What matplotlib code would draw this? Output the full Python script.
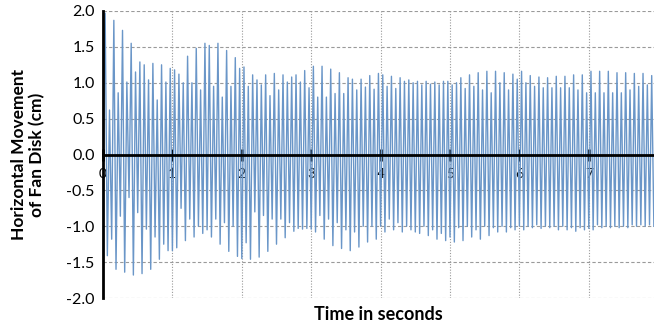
import numpy as np
import matplotlib.pyplot as plt

plt.rcParams['font.family'] = ['Lato', 'DejaVu Sans']

# positive peaks, one per cycle (about 16 cycles per second)
peaks = [
    1.97, 0.62, 1.87, 0.86, 1.73, 1.01, 1.55, 1.15,
    1.29, 1.25, 1.04, 1.27, 0.76, 1.25, 1.01, 1.20,
    1.18, 1.12, 1.00, 1.37, 1.00, 1.48, 0.90, 1.55,
    1.52, 0.95, 1.55, 0.80, 1.45, 0.95, 1.35, 1.20,
    1.22, 0.95, 1.11, 1.04, 0.97, 1.11, 0.82, 1.13,
    0.90, 1.11, 1.01, 1.08, 1.11, 1.01, 1.17, 0.93,
    1.23, 0.80, 1.23, 0.80, 1.19, 0.85, 1.14, 0.85,
    1.07, 1.05, 0.90, 1.05, 0.94, 1.10, 0.91, 1.13,
    1.11, 0.95, 1.09, 0.92, 1.07, 1.02, 1.04, 1.00,
    1.02, 0.97, 1.02, 0.98, 1.01, 0.97, 1.02, 1.02,
    0.97, 1.00, 1.07, 0.92, 1.11, 0.95, 1.14, 0.90,
    1.16, 0.86, 1.16, 1.00, 1.14, 0.90, 1.12, 1.05,
    1.16, 1.00, 1.10, 0.95, 1.08, 0.93, 1.07, 0.93,
    1.09, 0.93, 1.09, 0.93, 1.11, 0.90, 1.11, 0.86,
    1.16, 0.86, 1.16, 0.86, 1.16, 0.86, 1.14, 0.86,
    1.14, 0.90, 1.13, 0.95, 1.13, 0.97, 1.10,
]

# negative troughs, one per cycle
troughs = [
    -1.41, -1.18, -1.60, -0.86, -1.64, -0.60, -1.68, -0.81,
    -1.66, -1.04, -1.60, -1.15, -1.46, -1.25, -1.34, -1.34,
    -1.30, -0.75, -1.20, -0.90, -1.15, -1.00, -1.10, -1.05,
    -1.15, -0.90, -1.25, -0.95, -1.35, -1.00, -1.42, -1.45,
    -1.23, -1.46, -0.80, -1.43, -0.85, -1.35, -0.90, -1.25,
    -0.90, -1.16, -0.95, -1.07, -1.03, -1.04, -1.03, -1.04,
    -1.08, -0.85, -1.18, -0.90, -1.27, -0.95, -1.31, -1.05,
    -1.34, -1.08, -1.29, -1.00, -1.22, -1.00, -1.18, -1.00,
    -1.08, -0.90, -1.05, -0.95, -1.08, -1.00, -1.05, -1.08,
    -1.10, -1.00, -1.13, -1.05, -1.18, -1.10, -1.20, -1.15,
    -1.22, -1.02, -1.20, -1.00, -1.15, -1.05, -1.18, -1.00,
    -1.13, -1.02, -1.08, -1.00, -1.08, -1.02, -1.05, -1.00,
    -1.05, -1.00, -1.02, -0.98, -1.03, -1.00, -1.02, -1.00,
    -1.05, -1.00, -1.05, -1.02, -1.07, -1.02, -1.05, -1.03,
    -1.05, -0.98, -1.02, -1.00, -1.02, -1.00, -1.02, -1.00,
    -1.02, -0.98, -1.00, -0.98, -1.00, -0.98, -1.00,
]

cycles_per_second = 16
yticks = [-2.0, -1.5, -1.0, -0.5, 0.0, 0.5, 1.0, 1.5, 2.0]
xticks = [0, 1, 2, 3, 4, 5, 6, 7]

# signal: start at rest, then peak / trough alternating
y = [0.0]
for p, t in zip(peaks, troughs):
    y.append(p)
    y.append(t)
y = np.array(y)
x = np.arange(len(y)) / (2 * cycles_per_second)

fig = plt.figure(figsize=(6.54, 3.30), dpi=100)
ax = fig.add_axes([103/654, 1 - 298/330, 551/654, 287/330])

ax.plot(x, y, color='#6a96c8', lw=1.0, zorder=2)

ax.set_xlim(0, 551/69.4)
ax.set_ylim(-2.0, 2.0)
ax.set_yticks(yticks)
ax.set_yticklabels(['%.1f' % v for v in yticks])
ax.set_xticks(xticks)

ax.yaxis.grid(True, ls=(0, (3, 2)), color='#9a9a9a', lw=0.8)
ax.xaxis.grid(True, ls=(0, (1, 1.5)), color='#9a9a9a', lw=0.8)
ax.set_axisbelow(True)

for s in ['top', 'right']:
    ax.spines[s].set_visible(False)
ax.spines['left'].set_linewidth(2)
ax.spines['bottom'].set_position(('data', 0))
ax.spines['bottom'].set_linewidth(2)
ax.spines['bottom'].set_zorder(3)
ax.spines['left'].set_zorder(3)

ax.tick_params(axis='y', length=0, pad=6, labelsize=11.5)
ax.tick_params(axis='x', direction='inout', length=8, width=2, pad=6, labelsize=10)

ax.set_ylabel('Horizontal Movement\nof Fan Disk (cm)', fontsize=12.5,
              fontweight='bold', linespacing=1.15)
ax.yaxis.set_label_coords(-0.105, 0.5)
ax.set_xlabel('Time in seconds', fontsize=13, fontweight='bold')
ax.xaxis.set_label_coords(0.5, -0.028)

fig.savefig('out.png', dpi=100)
